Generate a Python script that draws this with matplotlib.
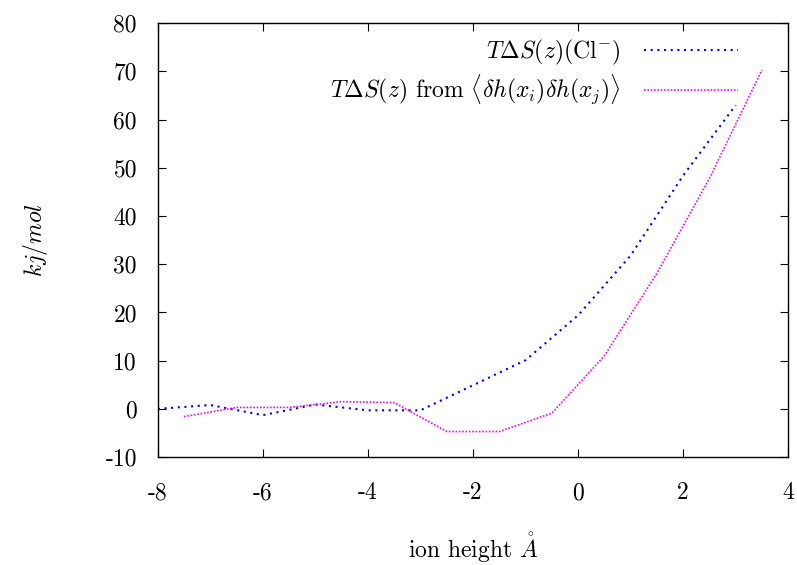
import numpy as np
import matplotlib
matplotlib.use('Agg')
import matplotlib.pyplot as plt

plt.rcParams['font.family'] = 'serif'
plt.rcParams['font.serif'] = ['cmr10']
plt.rcParams['mathtext.fontset'] = 'cm'
plt.rcParams['axes.unicode_minus'] = False
plt.rcParams['axes.formatter.use_mathtext'] = False

# T dS(z) for Cl-
z_cl = [-8, -7, -6, -5, -4, -3, -2, -1, 0, 1, 2, 3]
ts_cl = [0.0, 0.8, -1.3, 0.9, -0.3, -0.3, 4.9, 10.1, 19.4, 31.8, 48.4, 63.0]

# T dS(z) from height correlations
z_h = [-7.5, -6.5, -5.5, -4.5, -3.5, -2.5, -1.5, -0.5, 0.5, 1.5, 2.5, 3.5]
ts_h = [-1.6, 0.3, 0.3, 1.5, 1.3, -4.7, -4.7, -0.9, 11.0, 28.1, 47.8, 70.3]

fs = 17

fig = plt.figure(figsize=(7.97, 5.65), dpi=100)
ax = fig.add_axes([0.198, 0.191, 0.791, 0.768])

ax.plot(z_cl, ts_cl, color='#0000ff', lw=1.5, linestyle=(0, (1, 2.2)),
        label=r'$T\Delta S(z)(\mathrm{Cl}^{-})$')
ax.plot(z_h, ts_h, color='#ff00ff', lw=1.2, linestyle=(0, (1, 1)),
        label=r'$T\Delta S(z)$ from $\langle\delta h(x_i)\delta h(x_j)\rangle$')

ax.set_xlim(-8, 4)
ax.set_ylim(-10, 80)
ax.set_xticks(np.arange(-8, 5, 2))
ax.set_yticks(np.arange(-10, 81, 10))
ax.tick_params(direction='in', top=True, right=True, labelsize=fs, length=6)
ax.tick_params(axis='x', pad=18)
ax.tick_params(axis='y', pad=15)
for s in ax.spines.values():
    s.set_linewidth(1.0)

ax.set_xlabel(r'ion height $\mathring{A}$', fontsize=fs, labelpad=19)
ax.set_ylabel(r'$kj/mol$', fontsize=fs, labelpad=40)

ax.legend(loc='upper right', bbox_to_anchor=(0.954, 1.015), frameon=False,
          markerfirst=False, handlelength=4.0, labelspacing=0.25, fontsize=fs,
          handletextpad=1.0)

fig.savefig('out.png', dpi=100)
